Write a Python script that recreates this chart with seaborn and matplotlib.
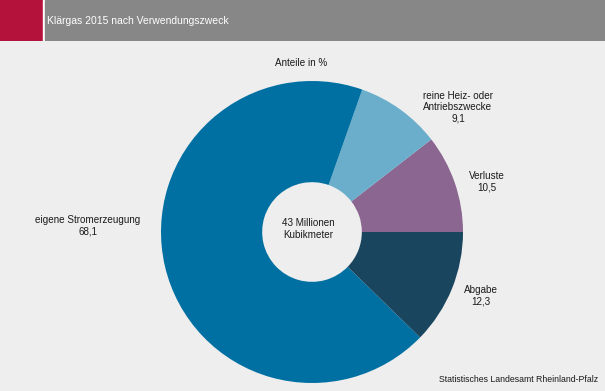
import matplotlib
matplotlib.use("Agg")
import matplotlib.pyplot as plt
import seaborn as sns

# data
categories = ["Verluste", "reine Heiz- oder\nAntriebszwecke", "eigene Stromerzeugung", "Abgabe"]
shares = [10.5, 9.1, 68.1, 12.3]
colors = ["#8A6690", "#6AAECB", "#0070A2", "#1A455F"]

# label placement in pixels (x, y from top)
label_pos = [(487, 182), (458, 107), (88, 226), (481, 296)]

W, H = 605, 391

sns.set_style("white")
plt.rcParams["font.family"] = ["Liberation Sans", "DejaVu Sans"]

fig = plt.figure(figsize=(W / 100, H / 100), dpi=100)
fig.patch.set_facecolor("#EEEEEE")

# header bar
hdr = fig.add_axes([0, 1 - 41 / H, 1, 41 / H])
hdr.set_axis_off()
hdr.set_xlim(0, W)
hdr.set_ylim(0, 41)
hdr.add_patch(plt.Rectangle((0, 0), 43, 41, color="#B5123B"))
hdr.add_patch(plt.Rectangle((43, 0), 2, 41, color="white"))
hdr.add_patch(plt.Rectangle((45, 0), W - 45, 41, color="#878787"))
hdr.text(47, 20, "Klärgas 2015 nach Verwendungszweck", color="white",
         fontsize=7.5, va="center", ha="left")

# donut
cx, cy, r = 312, 232, 151
ax = fig.add_axes([(cx - r) / W, (H - cy - r) / H, 2 * r / W, 2 * r / H])
ax.pie(shares, colors=colors, startangle=0, counterclock=True,
       wedgeprops=dict(width=0.67, linewidth=0), radius=1)
ax.set_xlim(-1, 1)
ax.set_ylim(-1, 1)
ax.set_aspect("equal")
ax.set_axis_off()

fs = 7.1
for name, val, (x, y) in zip(categories, shares, label_pos):
    txt = name + "\n" + f"{val:.1f}".replace(".", ",")
    fig.text(x / W, 1 - y / H, txt, ha="center", va="center", fontsize=fs,
             color="#1a1a1a", linespacing=1.15)

fig.text(301 / W, 1 - 63 / H, "Anteile in %", ha="center", va="center",
         fontsize=fs, color="#1a1a1a")
fig.text(308 / W, 1 - 229 / H, "43 Millionen\nKubikmeter", ha="center",
         va="center", fontsize=fs, color="#1a1a1a", linespacing=1.15)
fig.text(598 / W, 1 - 380 / H, "Statistisches Landesamt Rheinland-Pfalz",
         ha="right", va="center", fontsize=6.3, color="#1a1a1a")

fig.savefig("out.png", dpi=100, facecolor=fig.get_facecolor())
